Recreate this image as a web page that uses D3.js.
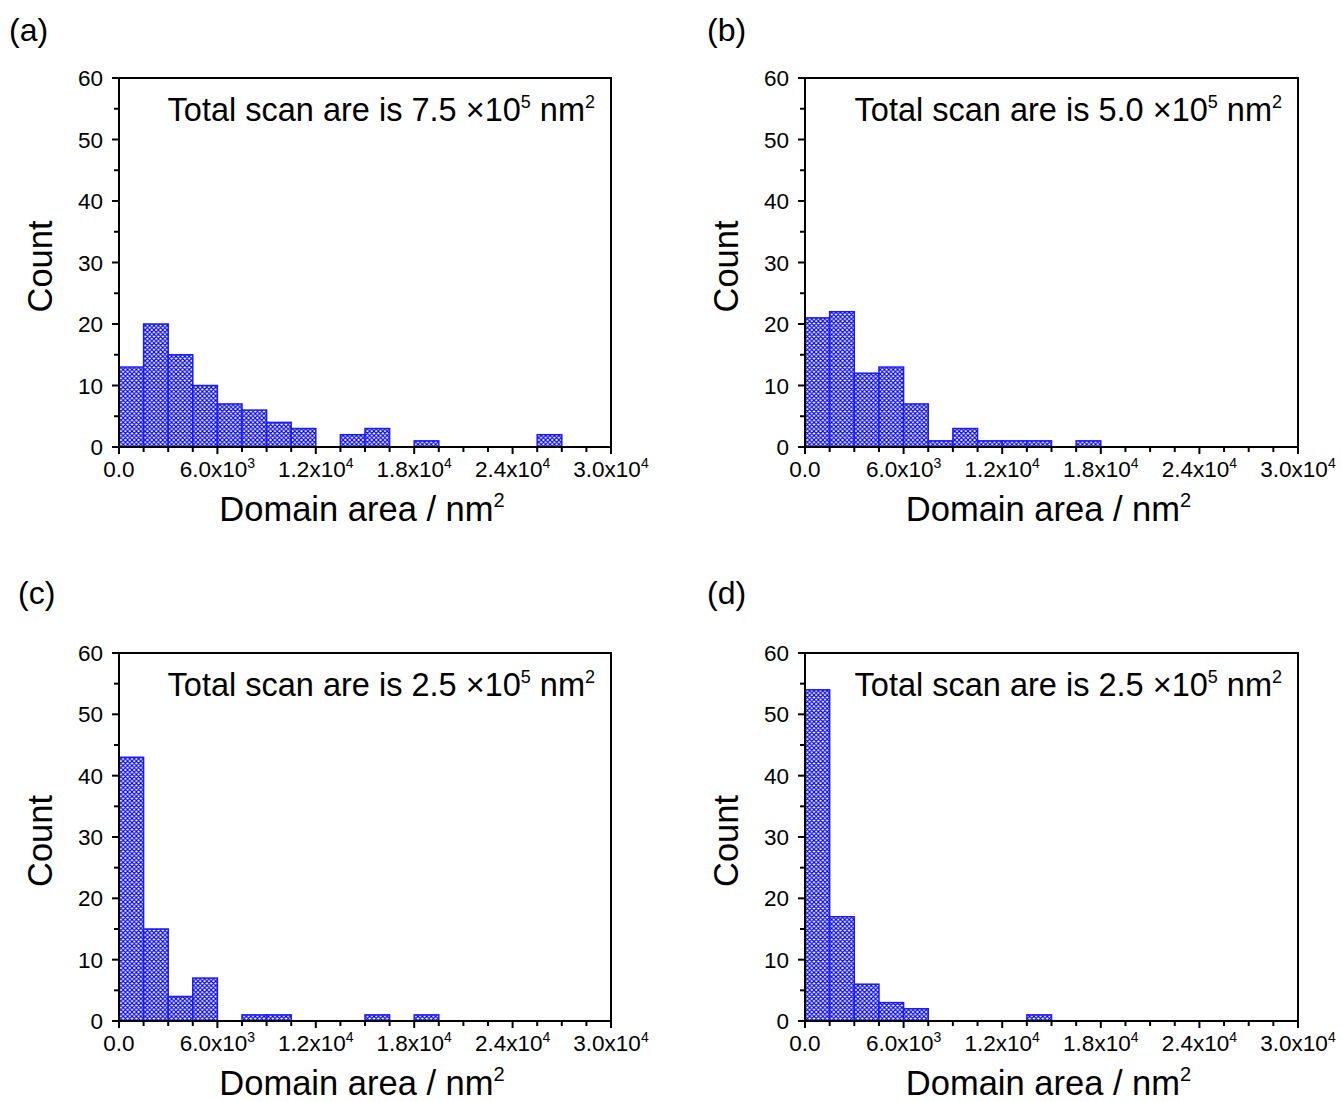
<!DOCTYPE html>
<html>
<head>
<meta charset="utf-8">
<script src="https://cdn.jsdelivr.net/npm/d3@7"></script>
<style>
  body { margin: 0; background: #fff; }
  text { font-family: "Liberation Sans", Arial, sans-serif; fill: #000; }
</style>
</head>
<body>
<div id="chart"></div>
<script>
// histogram bins: 0 .. 30000 step 1500
const binWidth = 1500;
const countsA = [13, 20, 15, 10, 7, 6, 4, 3, 0, 2, 3, 0, 1, 0, 0, 0, 0, 2, 0, 0];
const countsB = [21, 22, 12, 13, 7, 1, 3, 1, 1, 1, 0, 1, 0, 0, 0, 0, 0, 0, 0, 0];
const countsC = [43, 15, 4, 7, 0, 1, 1, 0, 0, 0, 1, 0, 1, 0, 0, 0, 0, 0, 0, 0];
const countsD = [54, 17, 6, 3, 2, 0, 0, 0, 0, 1, 0, 0, 0, 0, 0, 0, 0, 0, 0, 0];

const panelLabels = ["(a)", "(b)", "(c)", "(d)"];
const scanAreas = ["7.5", "5.0", "2.5", "2.5"];
const xTicks = [0, 6000, 12000, 18000, 24000, 30000];
const xTickText = [["0.0", ""], ["6.0x10", "3"], ["1.2x10", "4"], ["1.8x10", "4"], ["2.4x10", "4"], ["3.0x10", "4"]];
const yTicks = [0, 10, 20, 30, 40, 50, 60];

const W = 1342, H = 1102;
const svg = d3.select("#chart").append("svg").attr("width", W).attr("height", H);

// cross hatch fill
const hs = 4.4;
const pat = svg.append("defs").append("pattern")
  .attr("id", "hatch").attr("patternUnits", "userSpaceOnUse")
  .attr("width", hs).attr("height", hs);
pat.append("rect").attr("width", hs).attr("height", hs).attr("fill", "#fff");
pat.append("path")
  .attr("d", "M0,0 L" + hs + "," + hs + " M" + hs + ",0 L0," + hs +
    " M-1,1 L1,-1 M" + (hs - 1) + "," + (hs + 1) + " L" + (hs + 1) + "," + (hs - 1) +
    " M-1," + (hs - 1) + " L1," + (hs + 1) + " M" + (hs - 1) + ",-1 L" + (hs + 1) + ",1")
  .attr("stroke", "#0000f5").attr("stroke-width", 1.1);

const panels = [
  { counts: countsA, x0: 119, x1: 611, y0: 78, y1: 447, lx: 9, ly: 41 },
  { counts: countsB, x0: 805, x1: 1298, y0: 78, y1: 447, lx: 707, ly: 41 },
  { counts: countsC, x0: 119, x1: 611, y0: 653, y1: 1021, lx: 18, ly: 604 },
  { counts: countsD, x0: 805, x1: 1298, y0: 653, y1: 1021, lx: 707, ly: 604 }
];

panels.forEach(function (p, i) {
  const x = d3.scaleLinear().domain([0, 30000]).range([p.x0, p.x1]);
  const y = d3.scaleLinear().domain([0, 60]).range([p.y1, p.y0]);
  const g = svg.append("g");

  // bars
  const bins = p.counts.map(function (c, k) { return { lo: k * binWidth, hi: (k + 1) * binWidth, c: c }; })
    .filter(function (d) { return d.c > 0; });
  g.selectAll("rect.bar").data(bins).enter().append("rect")
    .attr("class", "bar")
    .attr("x", d => x(d.lo))
    .attr("y", d => y(d.c))
    .attr("width", d => x(d.hi) - x(d.lo))
    .attr("height", d => y(0) - y(d.c))
    .attr("fill", "url(#hatch)")
    .attr("stroke", "#1a1aff").attr("stroke-width", 1.5);

  // frame
  g.append("rect").attr("x", p.x0).attr("y", p.y0)
    .attr("width", p.x1 - p.x0).attr("height", p.y1 - p.y0)
    .attr("fill", "none").attr("stroke", "#000").attr("stroke-width", 2);

  // x axis ticks
  const xMinor = d3.range(0, 30001, 1500);
  g.selectAll("line.xt").data(xMinor).enter().append("line")
    .attr("x1", d => x(d)).attr("x2", d => x(d))
    .attr("y1", p.y1).attr("y2", d => p.y1 + (d % 6000 === 0 ? 7 : 5))
    .attr("stroke", "#000").attr("stroke-width", 2);
  const xl = g.selectAll("text.xl").data(xTicks).enter().append("text")
    .attr("x", d => x(d)).attr("y", p.y1 + 30)
    .attr("text-anchor", "middle").attr("font-size", 22.5);
  xl.append("tspan").text((d, k) => xTickText[k][0]);
  xl.append("tspan").attr("font-size", 14).attr("dy", -9).text((d, k) => xTickText[k][1]);

  // y axis ticks
  const yMinor = d3.range(0, 61, 5);
  g.selectAll("line.yt").data(yMinor).enter().append("line")
    .attr("x1", p.x0).attr("x2", d => p.x0 - (d % 10 === 0 ? 7 : 5))
    .attr("y1", d => y(d)).attr("y2", d => y(d))
    .attr("stroke", "#000").attr("stroke-width", 2);
  g.selectAll("text.yl").data(yTicks).enter().append("text")
    .attr("x", p.x0 - 16).attr("y", d => y(d) + 8)
    .attr("text-anchor", "end").attr("font-size", 22.5).text(d => d);

  // axis titles
  const xt = g.append("text").attr("x", (p.x0 + p.x1) / 2 - 3).attr("y", p.y1 + 74)
    .attr("text-anchor", "middle").attr("font-size", 34.5);
  xt.append("tspan").text("Domain area / nm");
  xt.append("tspan").attr("font-size", 20).attr("dy", -14).text("2");
  g.append("text")
    .attr("transform", "translate(" + (p.x0 - 67) + "," + ((p.y0 + p.y1) / 2 + 4) + ") rotate(-90)")
    .attr("text-anchor", "middle").attr("font-size", 34.5).text("Count");

  // annotation
  const an = g.append("text").attr("x", p.x1 - 16).attr("y", p.y0 + 43)
    .attr("text-anchor", "end").attr("font-size", 32.5);
  an.append("tspan").text("Total scan are is " + scanAreas[i] + " \u00d710");
  an.append("tspan").attr("font-size", 18).attr("dy", -13).text("5");
  an.append("tspan").attr("dy", 13).text(" nm");
  an.append("tspan").attr("font-size", 18).attr("dy", -13).text("2");

  // panel label
  svg.append("text").attr("x", p.lx).attr("y", p.ly).attr("font-size", 32).text(panelLabels[i]);
});
</script>
</body>
</html>
